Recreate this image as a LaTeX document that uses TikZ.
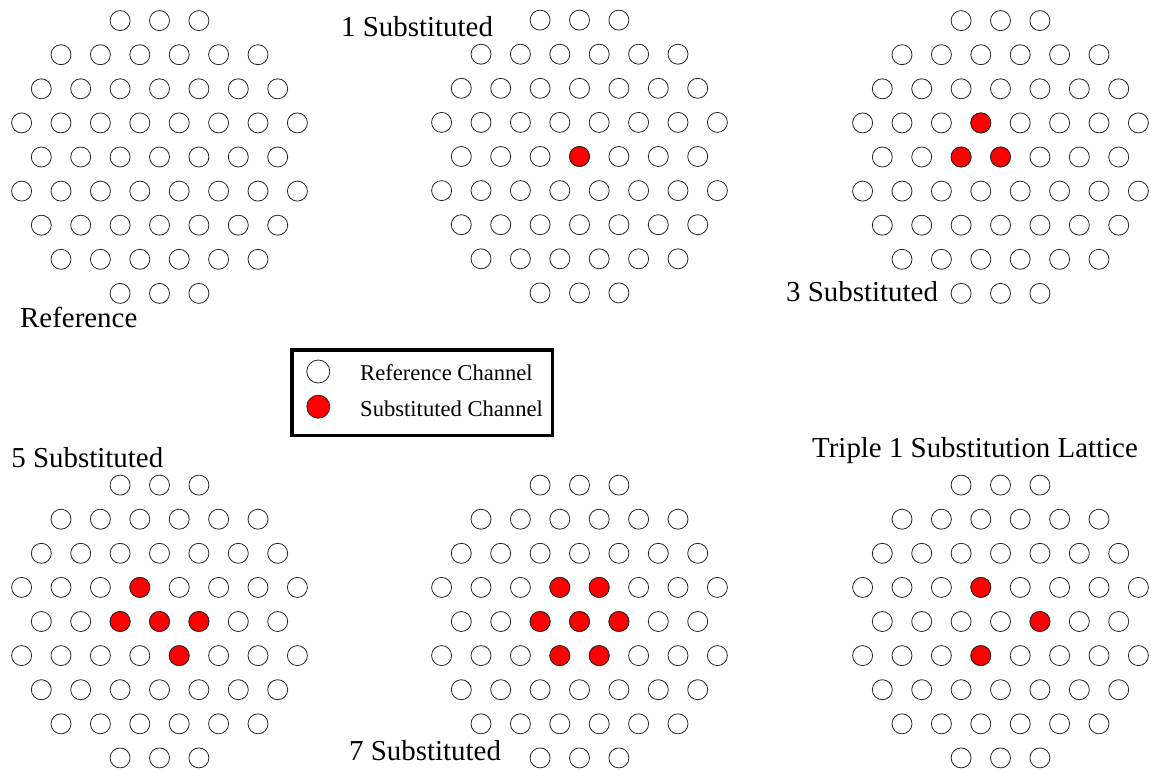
\documentclass[tikz,border=0pt]{standalone}
\usepackage{fontspec}
\setmainfont{Liberation Serif}
\tikzset{
  chan/.style={circle, draw=black!85, line width=0.8pt, minimum size=20pt, inner sep=0pt, fill=white},
  subch/.style={chan, fill=red},
  legchan/.style={chan, minimum size=23pt},
  legsub/.style={legchan, fill=red},
  lab/.style={anchor=base west, inner sep=0pt, font=\fontsize{28.9}{31}\selectfont},
  legtext/.style={anchor=base west, inner sep=0pt, font=\fontsize{22.6}{25}\selectfont},
  legbox/.style={draw=black, line width=3.5pt, minimum width=260.5pt, minimum height=85.5pt, inner sep=0pt}
}
\newcommand\drawlattice[3]{%
  \foreach \r/\n in {1/3,2/6,3/7,4/8,5/7,6/8,7/7,8/6,9/3} {
    \pgfmathsetmacro\st{-(\n-1)/2}
    \foreach \k in {1,...,\n} {
      \node[chan] (#1-\r-\k) at ({#2+(\st+\k-1)*39.4},{#3+(\r-5)*34.1}) {};
    }
  }%
}
\begin{document}
\begin{tikzpicture}[x=1pt,y=-1pt]
\useasboundingbox (0,0) rectangle (1151,769);
% lattices
\drawlattice{A}{159.5}{157}
\drawlattice{B}{579.5}{156.5}
\drawlattice{C}{1000.5}{157}
\drawlattice{D}{159.5}{621.5}
\drawlattice{E}{579.5}{621.5}
\drawlattice{F}{1000.5}{621.5}
% substituted channels
\node[subch] (B-s1) at (B-5-4) {};
\node[subch] (C-s1) at (C-4-4) {};
\node[subch] (C-s2) at (C-5-3) {};
\node[subch] (C-s3) at (C-5-4) {};
\node[subch] (D-s1) at (D-4-4) {};
\node[subch] (D-s2) at (D-5-3) {};
\node[subch] (D-s3) at (D-5-4) {};
\node[subch] (D-s4) at (D-5-5) {};
\node[subch] (D-s5) at (D-6-5) {};
\node[subch] (E-s1) at (E-4-4) {};
\node[subch] (E-s2) at (E-4-5) {};
\node[subch] (E-s3) at (E-5-3) {};
\node[subch] (E-s4) at (E-5-4) {};
\node[subch] (E-s5) at (E-5-5) {};
\node[subch] (E-s6) at (E-6-4) {};
\node[subch] (E-s7) at (E-6-5) {};
\node[subch] (F-s1) at (F-4-4) {};
\node[subch] (F-s2) at (F-5-5) {};
\node[subch] (F-s3) at (F-6-4) {};
% labels
\node[lab] (labA) at (20,327.3) {Reference};
\node[lab] (labB) at (341,36.7) {1 Substituted};
\node[lab] (labC) at (786,301.7) {3 Substituted};
\node[lab] (labD) at (11.3,467.3) {5 Substituted};
\node[lab] (labE) at (349,760) {7 Substituted};
\node[lab] (labF) at (812,457.3) {Triple 1 Substitution Lattice};
% legend
\node[legbox] (legend) at (422,392.5) {};
\node[legchan] (legref) at (318.3,371.5) {};
\node[legsub] (legsubc) at (318.3,406.7) {};
\node[legtext] (legreft) at (360,380) {Reference Channel};
\node[legtext] (legsubt) at (360,416.7) {Substituted Channel};
\end{tikzpicture}
\end{document}
